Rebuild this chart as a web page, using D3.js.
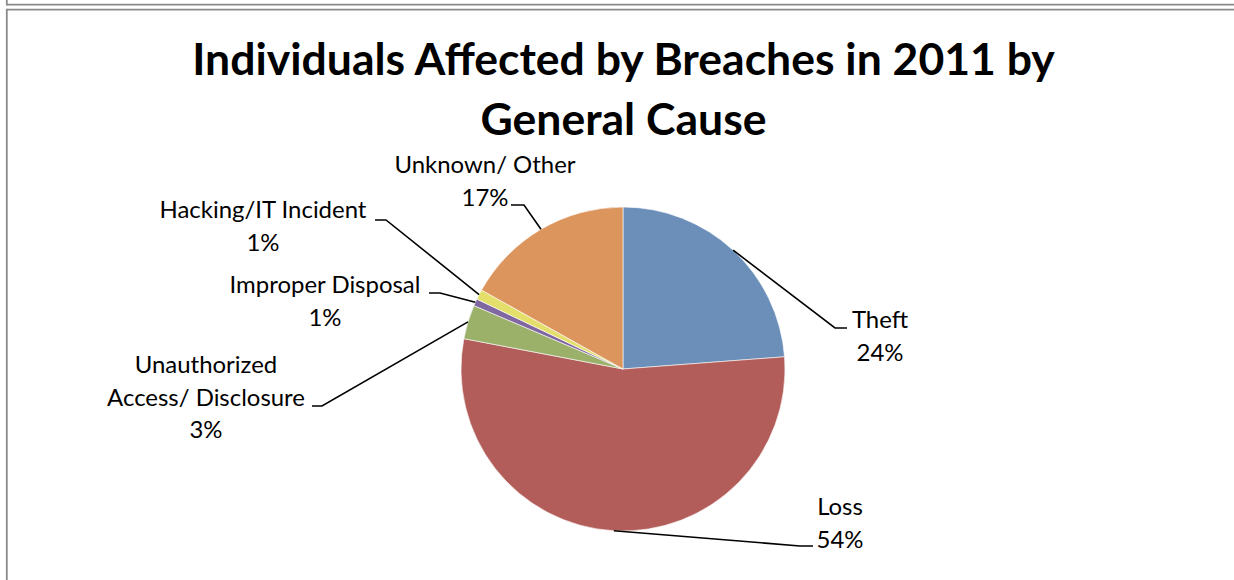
<!DOCTYPE html>
<html><head><meta charset="utf-8">
<script src="https://cdn.jsdelivr.net/npm/d3@7"></script>
<style>html,body{margin:0;padding:0;background:#fff;overflow:hidden} svg{display:block}</style>
</head><body><svg id="c" width="1234" height="580"></svg>
<script>
// ---- data ----
const categories = ["Theft", "Loss", "Unauthorized Access/ Disclosure", "Improper Disposal", "Hacking/IT Incident", "Unknown/ Other"];
const values = [23.8, 54.2, 3.4, 0.7, 1.0, 16.9];
const labelLines = [["Theft"], ["Loss"], ["Unauthorized", "Access/ Disclosure"], ["Improper Disposal"], ["Hacking/IT Incident"], ["Unknown/ Other"]];
const percentLabels = ["24%", "54%", "3%", "1%", "1%", "17%"];
const colors = ["#6b8fb9", "#b25d59", "#9bb16a", "#8067a1", "#e4df6b", "#dd955e"];
const titleLines = ["Individuals Affected by Breaches in 2011 by", "General Cause"];

// ---- layout ----
const W = 1234, H = 580;
const cx = 623, cy = 369, R = 162;
const FONT = "Lato, 'Open Sans', sans-serif";
const labelLayout = [
  {tx: 880, ty: 328, ey: 328, ex1: 835, ex2: 847},
  {tx: 840, ty: 515, ey: 546, ex1: 800, ex2: 813},
  {tx: 206, ty: 373, ey: 406, ex1: 322, ex2: 312},
  {tx: 325, ty: 293, ey: 293, ex1: 440, ex2: 429},
  {tx: 263, ty: 218, ey: 220, ex1: 386, ex2: 375},
  {tx: 485, ty: 173, ey: 205, ex1: 524, ex2: 511}
];
const lineGap = 32.5;

const svg = d3.select("#c");
svg.append("rect").attr("width", W).attr("height", H).attr("fill", "#fff");

// frame
const frame = svg.append("g").attr("stroke", "#8a8a8a").attr("stroke-width", 1.8).attr("fill", "none");
frame.append("line").attr("x1", 6.8).attr("x2", W).attr("y1", 4.6).attr("y2", 4.6);
frame.append("line").attr("x1", 6.8).attr("x2", 6.8).attr("y1", 0).attr("y2", 5.5);
frame.append("line").attr("x1", 6.8).attr("x2", W).attr("y1", 9.6).attr("y2", 9.6);
frame.append("line").attr("x1", 6.8).attr("x2", 6.8).attr("y1", 8.7).attr("y2", H);

// font fitting helper
function fitSize(text, weight, target) {
  const t = svg.append("text").attr("font-family", FONT).attr("font-weight", weight)
    .attr("font-size", 100).text(text);
  const w = t.node().getComputedTextLength();
  t.remove();
  return 100 * target / w;
}
const titleSize = fitSize(titleLines[0], "bold", 863);
const labelSize = fitSize("Hacking/IT Incident", "normal", 207);

// title
svg.append("g").selectAll("text").data(titleLines).join("text")
  .attr("x", 623.5).attr("y", (d, i) => 75 + i * 60)
  .attr("text-anchor", "middle").attr("font-family", FONT).attr("font-weight", "bold")
  .attr("font-size", titleSize).attr("fill", "#000").text(d => d);

// pie
const pie = d3.pie().sort(null).value(d => d);
const arcs = pie(values);
const arc = d3.arc().innerRadius(0).outerRadius(R);
const g = svg.append("g").attr("transform", `translate(${cx},${cy})`);
g.selectAll("path").data(arcs).join("path")
  .attr("d", arc).attr("fill", (d, i) => colors[i])
  .attr("stroke", "#fff").attr("stroke-width", 0.6);

// leader lines
svg.append("g").selectAll("path").data(arcs).join("path")
  .attr("fill", "none").attr("stroke", "#000").attr("stroke-width", 1.6)
  .attr("d", (d, i) => {
    const a = (d.startAngle + d.endAngle) / 2;
    const px = cx + R * Math.sin(a), py = cy - R * Math.cos(a);
    const L = labelLayout[i];
    return `M${px},${py}L${L.ex1},${L.ey}L${L.ex2},${L.ey}`;
  });

// labels
const lg = svg.append("g").attr("font-family", FONT).attr("font-size", labelSize).attr("fill", "#000");
arcs.forEach((d, i) => {
  const L = labelLayout[i];
  const lines = labelLines[i].concat([percentLabels[i]]);
  lines.forEach((s, j) => {
    lg.append("text").attr("x", L.tx).attr("y", L.ty + j * lineGap)
      .attr("text-anchor", "middle").text(s);
  });
});
</script>
</body></html>
